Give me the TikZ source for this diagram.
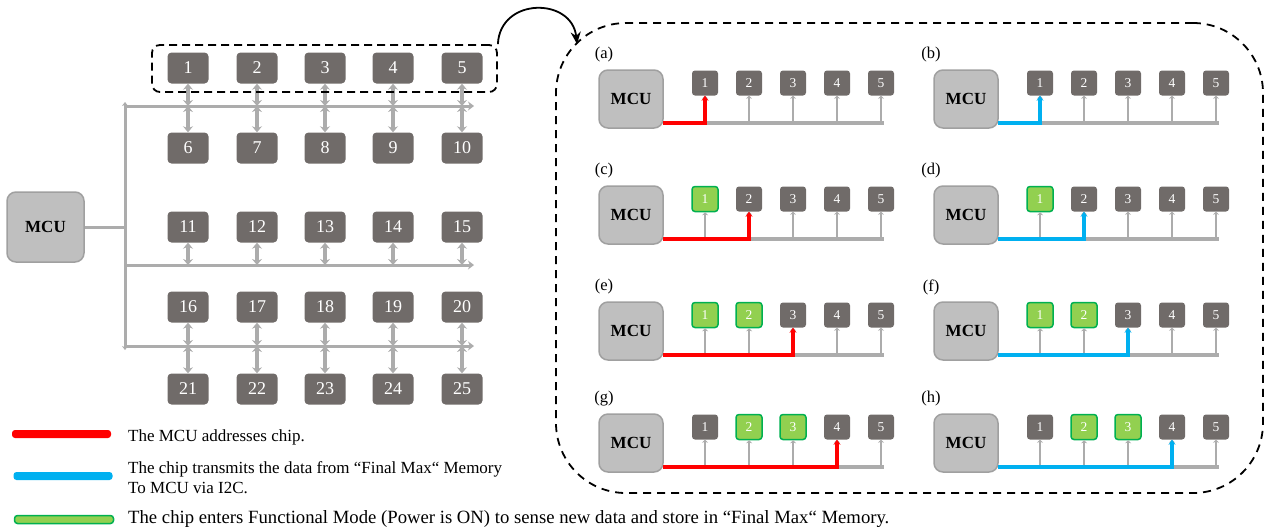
\documentclass[tikz,border=0pt]{standalone}
\usepackage{fontspec}
\setmainfont{Liberation Serif}
\usetikzlibrary{arrows.meta,calc}
\definecolor{chipgray}{RGB}{112,107,105}
\definecolor{mcugray}{RGB}{191,191,191}
\definecolor{mcuedge}{RGB}{160,160,160}
\definecolor{busgray}{RGB}{172,172,172}
\definecolor{addrred}{RGB}{255,0,0}
\definecolor{txblue}{RGB}{0,176,240}
\definecolor{onfill}{RGB}{146,208,80}
\definecolor{onedge}{RGB}{0,176,80}
\tikzset{
  bigchip/.style={rectangle, rounded corners=4pt, fill=chipgray, minimum width=41pt, minimum height=31pt, text=white, font=\fontsize{18}{18}\selectfont, inner sep=0pt},
  mcubox/.style={rectangle, rounded corners=9pt, fill=mcugray, draw=mcuedge, line width=1.5pt, font=\fontsize{17}{17}\selectfont\bfseries, inner sep=0pt},
  smallchip/.style={rectangle, rounded corners=3pt, fill=chipgray, minimum width=26pt, minimum height=25pt, text=white, font=\fontsize{13.5}{13.5}\selectfont, inner sep=0pt},
  onchip/.style={smallchip, fill=onfill, draw=onedge, line width=1.5pt},
  bus/.style={draw=busgray, line width=3pt},
  busend/.style={bus, -{Stealth[length=6pt,width=9pt]}},
  trunk/.style={bus, {Stealth[length=4pt,width=6pt]}-{Stealth[length=4pt,width=6pt]}},
  vbus/.style={draw=busgray, line width=3.8pt, {Stealth[length=6pt,width=10pt]}-{Stealth[length=6pt,width=10pt]}},
  pbus/.style={draw=busgray, line width=3.5pt},
  stub/.style={draw=busgray, line width=2.5pt, -{Stealth[length=3pt,width=6pt]}},
  plabel/.style={font=\fontsize{16.5}{16.5}\selectfont, inner sep=0pt},
  selbox/.style={draw=black, dash pattern=on 8pt off 5pt, line width=1.8pt, rounded corners=8pt, inner sep=0pt},
  zoombox/.style={draw=black, dash pattern=on 8pt off 6pt, line width=1.8pt, rounded corners=70pt, inner sep=0pt},
  legbar/.style={rectangle, rounded corners=3pt, minimum width=99pt, minimum height=8pt, inner sep=0pt},
  legtext/.style={anchor=west, align=left, inner sep=0pt, font=\fontsize{17}{20}\selectfont}
}
\newcommand{\seqpanel}[7]{%
  \begin{scope}[shift={(#1,#2)}]
    \node[plabel] (lab#3) at (#7,55) {(#3)};
    \node[mcubox, minimum width=64pt, minimum height=58pt] (m#3) at (631,99) {MCU};
    \foreach[count=\i] \s in {#6} {\node[\s] (c#3\i) at ({705+44*(\i-1)},83) {\i};}
    \coordinate (bs#3) at (663,123);
    \coordinate (be#3) at (884,123);
    \draw[pbus] (bs#3) -- (be#3);
    \foreach \i in {1,...,5} {\draw[stub] (c#3\i.south |- bs#3) -- (c#3\i.south);}
    \draw[#4, line width=4.5pt, -{Stealth[length=5pt,width=7pt]}] (bs#3) -| (c#3#5.south);
  \end{scope}}
\begin{document}
\begin{tikzpicture}[x=1pt,y=-1pt]
\useasboundingbox (0,0) rectangle (1269,531);
% ---------- left grid ----------
\foreach \c/\x in {0/188,1/257,2/325,3/393,4/462} {
  \foreach \r/\y in {0/68,1/148,2/227,3/307,4/389} {
    \pgfmathtruncatemacro\n{\r*5+\c+1}
    \node[bigchip] (g\n) at (\x,\y) {\n};
  }
}
\node[mcubox, minimum width=77pt, minimum height=70pt] (mcu) at (45.5,227) {MCU};
\coordinate (ttop) at (125,102);
\coordinate (tbot) at (125,350);
\draw[trunk] (ttop) -- (tbot);
\draw[bus] (mcu.east) -- (mcu.east -| ttop);
\coordinate (b1s) at (125,106); \coordinate (b1e) at (474,106);
\coordinate (b2s) at (125,265); \coordinate (b2e) at (474,265);
\coordinate (b3s) at (125,346); \coordinate (b3e) at (474,346);
\draw[busend] (b1s) -- (b1e);
\draw[busend] (b2s) -- (b2e);
\draw[busend] (b3s) -- (b3e);
\foreach \c in {1,...,5} {
  \pgfmathtruncatemacro\d{\c+5}
  \pgfmathtruncatemacro\e{\c+10}
  \pgfmathtruncatemacro\f{\c+15}
  \pgfmathtruncatemacro\h{\c+20}
  \draw[vbus] (g\c.south) -- (g\c.south |- b1s);
  \draw[vbus] (g\c.south |- b1s) -- (g\d.north);
  \draw[vbus] (g\e.south) -- (g\e.south |- b2s);
  \draw[vbus] (g\f.south) -- (g\f.south |- b3s);
  \draw[vbus] (g\f.south |- b3s) -- (g\h.north);
}
\node[selbox, minimum width=345pt, minimum height=47pt] (sel) at (324.5,68.5) {};
% ---------- zoom box ----------
\node[zoombox, minimum width=707pt, minimum height=470pt] (zoom) at (909.5,258) {};
\coordinate (zc) at (577,44);
\draw[black, line width=1.8pt, -{Stealth[length=12pt,width=10pt]}] (sel.north east) .. controls (500,-3) and (572,-3) .. (zc);
\seqpanel{0}{0}{a}{addrred}{1}{smallchip,smallchip,smallchip,smallchip,smallchip}{604}
\seqpanel{335}{0}{b}{txblue}{1}{smallchip,smallchip,smallchip,smallchip,smallchip}{596}
\seqpanel{0}{116}{c}{addrred}{2}{onchip,smallchip,smallchip,smallchip,smallchip}{604}
\seqpanel{335}{116}{d}{txblue}{2}{onchip,smallchip,smallchip,smallchip,smallchip}{596}
\seqpanel{0}{232}{e}{addrred}{3}{onchip,onchip,smallchip,smallchip,smallchip}{604}
\seqpanel{335}{232}{f}{txblue}{3}{onchip,onchip,smallchip,smallchip,smallchip}{596}
\seqpanel{0}{344}{g}{addrred}{4}{smallchip,onchip,onchip,smallchip,smallchip}{604}
\seqpanel{335}{344}{h}{txblue}{4}{smallchip,onchip,onchip,smallchip,smallchip}{596}
% ---------- legend ----------
\node[legbar, fill=addrred] (legr) at (61.5,434) {};
\node[legbar, fill=txblue] (legb) at (63,476) {};
\node[legbar, fill=onfill, draw=onedge, line width=1.5pt] (legg) at (64,519.5) {};
\node[legtext] (legrt) at (128,437) {The MCU addresses chip.};
\node[legtext] (legbt) at (128,478) {The chip transmits the data from “Final Max“ Memory\\To MCU via I2C.};
\node[legtext, font=\fontsize{18.7}{20}\selectfont] (leggt) at (128,519) {The chip enters Functional Mode (Power is ON) to sense new data and store in “Final Max“ Memory.};
\end{tikzpicture}
\end{document}
